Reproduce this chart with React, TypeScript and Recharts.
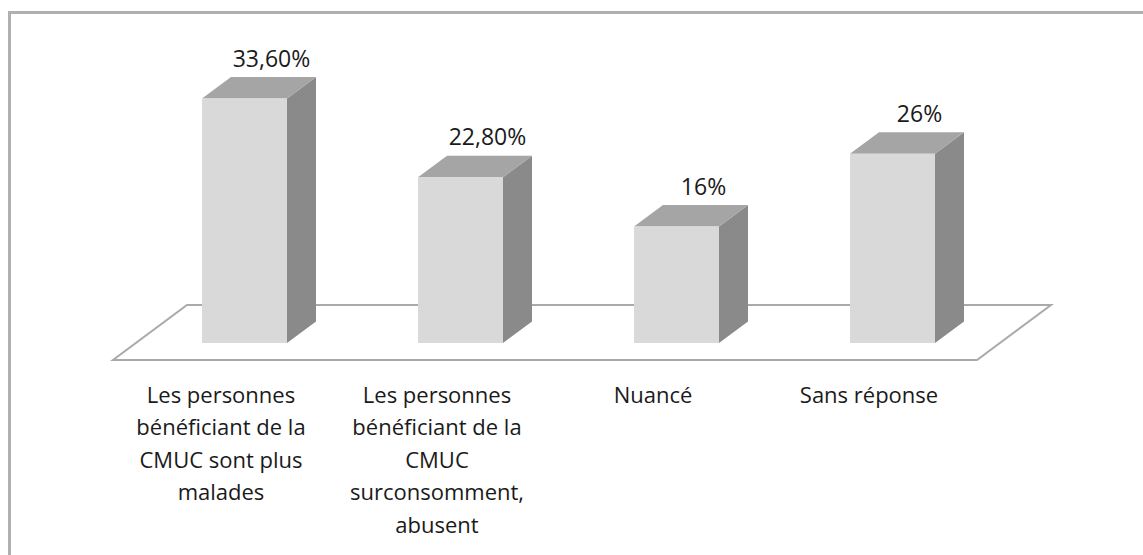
import { Bar, BarChart, LabelList, XAxis, YAxis } from "recharts"

const categories = [
  "Les personnes bénéficiant de la CMUC sont plus malades",
  "Les personnes bénéficiant de la CMUC surconsomment, abusent",
  "Nuancé",
  "Sans réponse",
]

const percentages = [33.6, 22.8, 16, 26]

const data = categories.map((name, i) => ({ name, value: percentages[i] }))

const W = 1143
const H = 555
const PLOT_LEFT = 136
const PLOT_RIGHT = 1000
const PLOT_TOP = 52
const PLOT_BOTTOM = 343

// 3d projection offsets
const DEPTH_X = 29
const DEPTH_Y = -21.5
const FLOOR_FRONT = { dx: -23, dy: 17 }
const FLOOR_BACK = { dx: 51, dy: -38 }

const FONT = "'Open Sans', sans-serif"
const FONT_SIZE = 22
const TEXT_COLOR = "#1a1a1a"

let ctx: CanvasRenderingContext2D | null = null
const measure = (s: string) => {
  if (!ctx) {
    ctx = document.createElement("canvas").getContext("2d")
  }
  if (!ctx) return s.length * FONT_SIZE * 0.55
  ctx.font = `${FONT_SIZE}px ${FONT}`
  return ctx.measureText(s).width
}

const wrap = (text: string, maxWidth: number) => {
  const words = text.split(" ")
  const lines: string[] = []
  let cur = ""
  for (const w of words) {
    const next = cur ? `${cur} ${w}` : w
    if (cur && measure(next) > maxWidth) {
      lines.push(cur)
      cur = w
    } else {
      cur = next
    }
  }
  if (cur) lines.push(cur)
  return lines
}

const formatPct = (v: number) =>
  Number.isInteger(v) ? `${v}%` : `${v.toFixed(2).replace(".", ",")}%`

const Bar3D = (props: any) => {
  const { x, y, width, height } = props
  const r = x + width
  const b = y + height
  return (
    <g>
      <polygon
        points={`${r},${y} ${r + DEPTH_X},${y + DEPTH_Y} ${r + DEPTH_X},${b + DEPTH_Y} ${r},${b}`}
        fill="#8a8a8a"
      />
      <polygon
        points={`${x},${y} ${x + DEPTH_X},${y + DEPTH_Y} ${r + DEPTH_X},${y + DEPTH_Y} ${r},${y}`}
        fill="#a5a5a5"
      />
      <rect x={x} y={y} width={width} height={height} fill="#d9d9d9" />
    </g>
  )
}

const CategoryTick = (props: any) => {
  const { x, payload } = props
  const lines = wrap(String(payload.value), 192)
  return (
    <text
      x={x + FLOOR_FRONT.dx}
      y={395}
      textAnchor="middle"
      fontFamily={FONT}
      fontSize={FONT_SIZE}
      fill={TEXT_COLOR}
    >
      {lines.map((line, i) => (
        <tspan key={i} x={x + FLOOR_FRONT.dx} dy={i === 0 ? "0.35em" : 32.5}>
          {line}
        </tspan>
      ))}
    </text>
  )
}

const ValueLabel = (props: any) => {
  const { x, y, width, value } = props
  return (
    <text
      x={x + width / 2 + 27}
      y={y - 38}
      textAnchor="middle"
      dominantBaseline="middle"
      fontFamily={FONT}
      fontSize={23}
      fill={TEXT_COLOR}
    >
      {formatPct(value)}
    </text>
  )
}

const floorPoints = [
  [PLOT_LEFT + FLOOR_FRONT.dx, PLOT_BOTTOM + FLOOR_FRONT.dy],
  [PLOT_RIGHT + FLOOR_FRONT.dx, PLOT_BOTTOM + FLOOR_FRONT.dy],
  [PLOT_RIGHT + FLOOR_BACK.dx, PLOT_BOTTOM + FLOOR_BACK.dy],
  [PLOT_LEFT + FLOOR_BACK.dx, PLOT_BOTTOM + FLOOR_BACK.dy],
]
  .map((p) => p.join(","))
  .join(" ")

export default function App() {
  return (
    <div style={{ position: "absolute", left: 0, top: 0, width: W, height: H, background: "#fff", overflow: "hidden" }}>
      <div
        style={{
          position: "absolute",
          left: 8,
          top: 11,
          width: W,
          height: H,
          borderTop: "3px solid #b0b0b0",
          borderLeft: "3px solid #b0b0b0",
        }}
      />
      <svg width={W} height={H} style={{ position: "absolute", left: 0, top: 0 }}>
        <polygon points={floorPoints} fill="#fff" stroke="#aaaaaa" strokeWidth={2} />
      </svg>
      <div style={{ position: "absolute", left: 0, top: 0 }}>
        <BarChart
          width={W}
          height={H}
          data={data}
          margin={{ top: PLOT_TOP, right: W - PLOT_RIGHT, left: PLOT_LEFT, bottom: 12 }}
        >
          <XAxis
            dataKey="name"
            axisLine={false}
            tickLine={false}
            interval={0}
            height={H - PLOT_BOTTOM - 12}
            tick={<CategoryTick />}
          />
          <YAxis hide domain={[0, 40]} />
          <Bar dataKey="value" barSize={85} shape={<Bar3D />} isAnimationActive={false}>
            <LabelList dataKey="value" content={<ValueLabel />} />
          </Bar>
        </BarChart>
      </div>
    </div>
  )
}
